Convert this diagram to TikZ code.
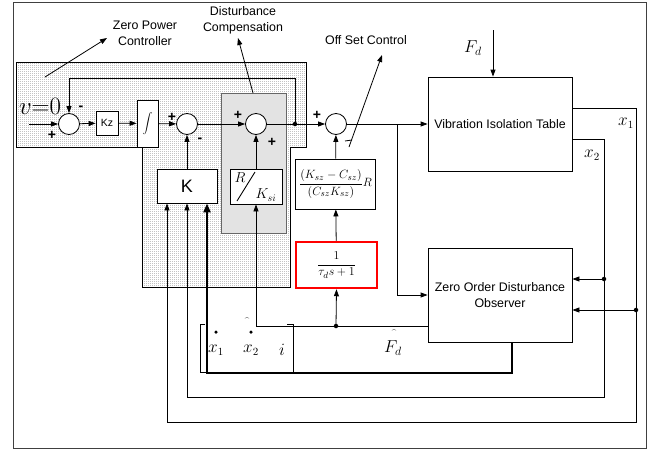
\documentclass[tikz,border=0pt]{standalone}
\usepackage{fontspec}
\newfontfamily\arialf{Liberation Sans}
\usetikzlibrary{arrows.meta,patterns}
\pgfdeclarepatternformonly{stipple}{\pgfpointorigin}{\pgfqpoint{2pt}{2pt}}{\pgfqpoint{2pt}{2pt}}{\pgfpathrectangle{\pgfpointorigin}{\pgfqpoint{1pt}{1pt}}\pgfusepath{fill}}
\begin{document}
\begin{tikzpicture}[x=1pt,y=-1pt,line width=0.8pt,
  arr/.style={-{Triangle[length=7pt,width=5pt]}},
  tarr/.style={line width=2.4pt,-{Triangle[length=9pt,width=7pt]}},
  sumj/.style={circle,draw,fill=white,minimum size=21pt,inner sep=0pt},
  blk/.style={draw,fill=white,inner sep=0pt,align=center,font=\arialf\fontsize{12.4}{15}\selectfont},
  sgn/.style={font=\arialf\bfseries\fontsize{14}{14}\selectfont,inner sep=0pt},
  lbl/.style={font=\arialf\fontsize{12.4}{16}\selectfont,align=center,inner sep=0pt},
  mth/.style={font=\fontsize{16}{16}\selectfont,inner sep=0pt},
  dotj/.style={circle,fill,inner sep=0pt,minimum size=4.5pt}]
\useasboundingbox (0,0) rectangle (659,450);
% frame
\draw[black!75] (13,2) rectangle (646,448);
% zero power controller region
\fill[white] (16,62) -- (306,62) -- (306,147) -- (290,147) -- (290,287) -- (142,287) -- (142,147) -- (16,147) -- cycle;
\fill[pattern=stipple,pattern color=black!55] (16,62) -- (306,62) -- (306,147) -- (290,147) -- (290,287) -- (142,287) -- (142,147) -- (16,147) -- cycle;
\draw[line width=0.6pt] (16,62) -- (306,62) -- (306,147) -- (290,147) -- (290,287) -- (142,287) -- (142,147) -- (16,147) -- cycle;
% disturbance compensation region
\filldraw[fill=black!11,draw=black!60] (221,93) rectangle (286,233);

% blocks
\node[sumj] (s1) at (69,124) {};
\node[blk,minimum width=22pt,minimum height=24pt,font=\arialf\fontsize{10.5}{10.5}\selectfont] (kz) at (107,123) {Kz};
\node[blk,minimum width=21pt,minimum height=47pt,font=\fontsize{11}{11}\selectfont] (int) at (147.5,123.5) {$\displaystyle\int$};
\node[sumj] (s2) at (187,124) {};
\node[sumj] (s3) at (256,124) {};
\coordinate (j1) at (295,124);
\node[sumj] (s4) at (336,124) {};
\node[blk,minimum width=144pt,minimum height=94pt] (vit) at (500,124) {Vibration Isolation Table};
\node[blk,minimum width=144pt,minimum height=94pt] (zodo) at (500,295) {Zero Order Disturbance\\[1pt]Observer};
\node[blk,minimum width=60pt,minimum height=34pt,font=\arialf\fontsize{18}{18}\selectfont] (K) at (187,186) {K};
\node[blk,minimum width=52pt,minimum height=35pt] (rk) at (256,186.5) {};
\node[blk,minimum width=80pt,minimum height=50pt,font=\fontsize{13}{13}\selectfont] (mid) at (335.5,184) {$\displaystyle\frac{(K_{sz}-C_{sz})}{(C_{sz}K_{sz})}R$};
\node[blk,draw=red,line width=2.5pt,minimum width=81pt,minimum height=46pt,font=\fontsize{13}{13}\selectfont] (red) at (336.5,265) {$\displaystyle\frac{1}{\tau_d s+1}$};

% R / K_si inside rk
\node[inner sep=0pt,font=\fontsize{14}{14}\selectfont] (rR) at (240,178) {$R$};
\node[inner sep=0pt,font=\fontsize{14}{14}\selectfont] (rKs) at (266,195) {$K_{si}$};
\coordinate (sla) at (237,201);
\coordinate (slb) at (255,172);
\draw[line width=0.9pt] (sla) -- (slb);

% coordinates
\coordinate (vin) at (29,124);
\coordinate (fbr) at (295,78);
\coordinate (fbl) at (69,78);
\coordinate (j2) at (397,124);
\coordinate (fdt) at (493,30);
\coordinate (c1) at (636,422);
\coordinate (c2) at (604,397);
\coordinate (c3) at (207,373);
\coordinate (jx1) at (636,310);
\coordinate (jx2) at (604,279);
\coordinate (jF) at (336,326);

% connectors
\draw[arr] (vin) -- (s1);
\draw[arr] (s1) -- (kz);
\draw[arr] (kz) -- (int);
\draw[arr] (int) -- (s2);
\draw[arr] (s2) -- (s3);
\draw (s3) -- (j1);
\draw[arr] (j1) -- (s4);
\draw[arr] (j1) -- (fbr) -- (fbl) -- (s1);
\draw[arr] (s4) -- (vit);
\draw[arr] (j2) |- (zodo.west);
\draw[arr] (K) -- (s2);
\draw[arr] (rk) -- (s3);
\draw[arr] (mid) -- (s4);
\draw[arr] (red) -- (mid);
\draw[arr] (fdt) -- (fdt |- vit.north);
\draw[arr] (vit.east |- 0,108) -| (c1) -| (K.south -| 167,0);
\draw[arr] (vit.east |- 0,139) -| (c2) -| (K.south);
\draw[tarr] (zodo.south -| 512,0) |- (c3) -- (K.south -| c3);
\draw[arr] (zodo.west |- 0,326) -| (rk.south);
\draw[arr] (jF) -- (red.south);
\draw[arr] (jx2) -- (zodo.east |- jx2);
\draw[arr] (jx1) -- (zodo.east |- jx1);
\node[dotj] at (j1) {};
\node[dotj] at (jx1) {};
\node[dotj] at (jx2) {};
\node[dotj] at (jF) {};

% sensor bracket
\draw[line width=0.6pt] (205,324) -- (200,324) -- (200,372) -- (206,372);
\draw[line width=0.6pt] (287,324) -- (293,324) -- (293,373);

% signs
\node[sgn] at (52,135) {+};
\node[sgn] at (81,108) {-};
\node[sgn] at (172,117) {+};
\node[sgn] at (200,140) {-};
\node[sgn] at (238,115) {+};
\node[sgn] at (272,142) {+};
\node[sgn] at (317,115) {+};

% math labels
\node[inner sep=0pt,font=\fontsize{24}{24}\selectfont] (v0) at (40,106) {$v{=}0$};
\node[mth,font=\fontsize{17}{17}\selectfont] (fd) at (473,48) {$F_d$};
\node[mth] (lx1) at (626,123) {$x_1$};
\node[mth] (lx2) at (592,155) {$x_2$};
\node[mth] (bx1) at (216,350) {$x_1$};
\node[mth] (bx2) at (251,350) {$x_2$};
\node[mth] (bi) at (282,350) {$i$};
\node[circle,fill,inner sep=0pt,minimum size=3.5pt] (d1) at (216,332) {};
\node[circle,fill,inner sep=0pt,minimum size=3.5pt] (d2) at (251,332) {};
\node[inner sep=0pt,font=\fontsize{8}{8}\selectfont] (h2) at (247,321) {\textasciicircum};
\node[mth,font=\fontsize{17}{17}\selectfont] (fh) at (393,348) {$F_d$};
\node[inner sep=0pt,font=\fontsize{8}{8}\selectfont] (hf) at (394,333) {\textasciicircum};

% annotations
\node[lbl] (zpc) at (145,33) {Zero Power\\Controller};
\coordinate (zpcs) at (45,77);
\coordinate (zpce) at (107,38);
\draw[arr] (zpcs) -- (zpce);
\node[lbl] (dc) at (243,20) {Disturbance\\Compensation};
\coordinate (dcs) at (253,93);
\coordinate (dce) at (238,38);
\draw[arr] (dcs) -- (dce);
\node[lbl] (osc) at (366,40) {Off Set Control};
\coordinate (oss) at (349,147);
\coordinate (ose) at (382,55);
\draw[arr] (oss) -- (ose);
\draw (345,141) -- (352,140);
\end{tikzpicture}
\end{document}
